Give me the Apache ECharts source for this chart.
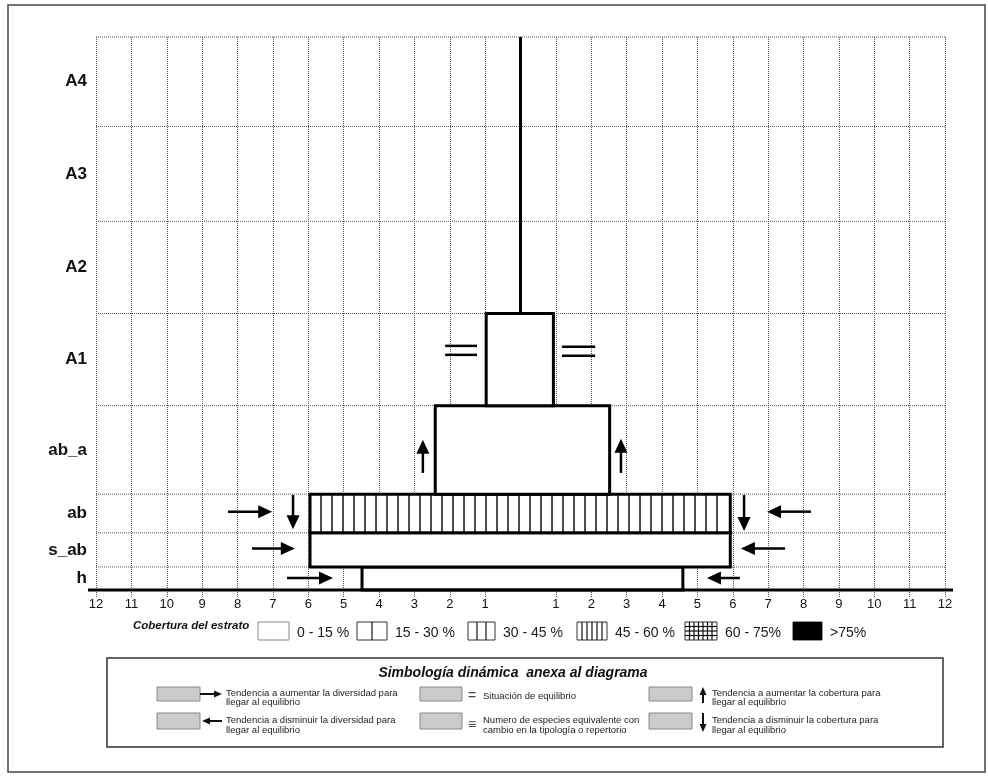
<!DOCTYPE html>
<html>
<head>
<meta charset="utf-8">
<script src="https://cdn.jsdelivr.net/npm/echarts@6/dist/echarts.min.js"></script>
<style>html,body{margin:0;padding:0;background:#fff}#c{width:988px;height:777px}</style>
</head>
<body>
<div id="c"></div>
<script>
// ---------- data ----------
const strata = ['h', 's_ab', 'ab', 'ab_a', 'A1', 'A2', 'A3', 'A4'];
const strataBounds = [0, 0.25, 0.62, 1.04, 2, 3, 4, 5.03, 6];
const xTickValues = [-12,-11,-10,-9,-8,-7,-6,-5,-4,-3,-2,-1,1,2,3,4,5,6,7,8,9,10,11,12];
const xTickLabels = ['12','11','10','9','8','7','6','5','4','3','2','1','','1','2','3','4','5','6','7','8','9','10','11','12'];
// cover boxes per stratum (index into strata): left / right diversity extent, cover class
const boxStratum = [0, 1, 2, 3, 4];
const boxLeft = [-4.48, -5.95, -5.95, -2.41, -0.97];
const boxRight = [4.59, 5.93, 5.93, 2.52, 0.93];
const boxCover = [0, 0, 3, 0, 0];
const coverClasses = ['0 - 15 %', '15 - 30 %', '30 - 45 %', '45 - 60 %', '60 - 75%', '>75%'];
// central stem: x, from, to
const stem = [0, 3.01, 6];
// dynamic arrows [tailX, tailY, headX, headY]
const arrows = [
  [-8.27, 0.85, -7.02, 0.85],
  [8.21, 0.85, 6.97, 0.85],
  [-7.59, 0.45, -6.38, 0.45],
  [7.48, 0.45, 6.23, 0.45],
  [-6.6, 0.13, -5.3, 0.13],
  [6.2, 0.13, 5.27, 0.13],
  [-6.43, 1.03, -6.43, 0.66],
  [6.32, 1.03, 6.32, 0.64],
  [-2.76, 1.27, -2.76, 1.63],
  [2.84, 1.27, 2.84, 1.64]
];
// equilibrium signs [x1, x2, y]
const equalsSigns = [[-2.13, -1.23, 2.6], [1.17, 2.11, 2.59]];
const coverTitle = 'Cobertura del estrato';
const dynTitle = 'Simbología dinámica  anexa al diagrama';
const dynSymbols = ['→', '←', '=', '≡', '↑', '↓'];
const dynTexts = [
  ['Tendencia a aumentar la diversidad para', 'llegar al equilibrio'],
  ['Tendencia a disminuir la diversidad para', 'llegar al equilibrio'],
  ['Situación de equilibrio'],
  ['Numero de especies equivalente con', 'cambio en la tipología o repertorio'],
  ['Tendencia a aumentar la cobertura para', 'llegar al equilibrio'],
  ['Tendencia a disminuir la cobertura para', 'llegar al equilibrio']
];

// ---------- helpers ----------
const FAM = '"Liberation Sans", Arial, Helvetica, sans-serif';
const mids = strata.map((s, i) => (strataBounds[i] + strataBounds[i + 1]) / 2);

function arrowEls(x1, y1, x2, y2, lw, headLen, headHalf, color) {
  const dx = x2 - x1, dy = y2 - y1, L = Math.hypot(dx, dy) || 1;
  const ux = dx / L, uy = dy / L;
  const bx = x2 - ux * headLen, by = y2 - uy * headLen;
  const px = -uy, py = ux;
  return [
    {type: 'line', shape: {x1: x1, y1: y1, x2: bx + ux, y2: by + uy}, style: {stroke: color, lineWidth: lw}},
    {type: 'polygon', shape: {points: [[x2, y2], [bx + px * headHalf, by + py * headHalf], [bx - px * headHalf, by - py * headHalf]]}, style: {fill: color}}
  ];
}

function patternEls(x, y, w, h, cls, step, lw, color) {
  const els = [];
  const vline = (xx) => els.push({type: 'line', shape: {x1: xx, y1: y, x2: xx, y2: y + h}, style: {stroke: color, lineWidth: lw}});
  const hline = (yy) => els.push({type: 'line', shape: {x1: x, y1: yy, x2: x + w, y2: yy}, style: {stroke: color, lineWidth: lw}});
  if (cls === 1) { vline(x + w / 2); }
  else if (cls === 2) { vline(x + w / 3); vline(x + 2 * w / 3); }
  else if (cls === 3) { for (let xx = x + step; xx < x + w - step * 0.4; xx += step) vline(xx); }
  else if (cls === 4) {
    for (let xx = x + step; xx < x + w - step * 0.4; xx += step) vline(xx);
    for (let yy = y + step; yy < y + h - step * 0.4; yy += step) hline(yy);
  } else if (cls === 5) {
    els.push({type: 'rect', shape: {x: x, y: y, width: w, height: h}, style: {fill: '#000'}});
  }
  return els;
}

function T(x, y, text, font, extra) {
  return Object.assign({type: 'text', x: x, y: y, style: Object.assign({
    text: text, font: font, fill: '#111',
    textVerticalAlign: 'middle', verticalAlign: 'middle', textAlign: 'left', align: 'left'
  }, extra || {})});
}

// ---------- graphic (frame + legends) ----------
const G = [];
G.push({type: 'rect', shape: {x: 8, y: 5, width: 977, height: 767}, style: {fill: 'none', stroke: '#444', lineWidth: 1.5}});

// cover legend row
G.push(T(133, 626, coverTitle, 'italic bold 11.5px ' + FAM));
const covBoxX = [258, 357, 468, 577, 685, 793];
const covBoxW = [31, 30, 27, 30, 32, 29];
coverClasses.forEach((lab, k) => {
  const bx = covBoxX[k], by = 622, bw = covBoxW[k], bh = 18;
  G.push({type: 'rect', shape: {x: bx, y: by, width: bw, height: bh}, style: {fill: '#fff', stroke: k === 0 ? '#888' : '#333', lineWidth: 1}});
  patternEls(bx, by, bw, bh, k, k === 4 ? 4.5 : 5, 1.2, '#111').forEach(e => G.push(e));
  G.push(T(bx + bw + 8, 633, lab, '14px ' + FAM, {fill: '#1a1a1a'}));
});

// dynamic symbology box
G.push({type: 'rect', shape: {x: 107, y: 658, width: 836, height: 89}, style: {fill: 'none', stroke: '#333', lineWidth: 1.5}});
G.push(T(513, 673, dynTitle, 'italic bold 14px ' + FAM, {textAlign: 'center', align: 'center'}));
const dynBoxX = [157, 420, 649], dynBoxW = [43, 42, 43], dynTextX = [226, 483, 712];
const dynBoxY = [687, 713], dynBoxH = [14, 16];
const dynLineY = [[693, 702], [720, 730]], dynSingleY = [696, 725];
dynSymbols.forEach((sym, k) => {
  const col = Math.floor(k / 2), row = k % 2;
  const bx = dynBoxX[col], by = dynBoxY[row];
  G.push({type: 'rect', shape: {x: bx, y: by, width: dynBoxW[col], height: dynBoxH[row]}, style: {fill: '#cbcbcb', stroke: '#8a8a8a', lineWidth: 1}});
  const cy = by + dynBoxH[row] / 2;
  const right = bx + dynBoxW[col];
  let els = [];
  if (sym === '→') els = arrowEls(right, cy, right + 22, cy, 2, 8, 3.5, '#111');
  else if (sym === '←') els = arrowEls(right + 22, cy, right + 2, cy, 2, 8, 3.5, '#111');
  else if (sym === '↑') els = arrowEls(703, 703, 703, 687, 2, 8, 3.5, '#111');
  else if (sym === '↓') els = arrowEls(703, 713, 703, 732, 2, 8, 3.5, '#111');
  else els = [T(472, dynSingleY[row], sym, '14px ' + FAM, {textAlign: 'center', align: 'center', fill: '#444'})];
  els.forEach(e => G.push(e));
  const lines = dynTexts[k];
  if (lines.length === 1) {
    G.push(T(dynTextX[col], dynSingleY[row], lines[0], '9.5px ' + FAM, {fill: '#222'}));
  } else {
    lines.forEach((ln, j) => G.push(T(dynTextX[col], dynLineY[row][j], ln, '9.5px ' + FAM, {fill: '#222'})));
  }
});

// ---------- chart ----------
const chart = echarts.init(document.getElementById('c'), null, {renderer: 'canvas'});
const option = {
  animation: false,
  backgroundColor: '#fff',
  grid: {left: 96, right: 43, top: 37, bottom: 187},
  xAxis: {
    type: 'value', min: -12, max: 12, interval: 1,
    axisLine: {show: false},
    axisTick: {show: true, length: 8, customValues: xTickValues, lineStyle: {color: '#555', type: [1, 1]}},
    axisLabel: {margin: 8, fontSize: 13, color: '#111', fontFamily: FAM,
      formatter: (v) => xTickLabels[Math.round(v) + 12] || ''},
    splitLine: {show: true, lineStyle: {color: '#555', type: [1, 1], width: 1}}
  },
  yAxis: {
    type: 'value', min: 0, max: 6,
    axisLine: {show: false}, axisTick: {show: false}, splitLine: {show: false},
    axisLabel: {customValues: mids, margin: 9, fontSize: 17, fontWeight: 'bold', color: '#111', fontFamily: FAM,
      formatter: (v) => { const i = mids.findIndex(m => Math.abs(m - v) < 1e-6); return i >= 0 ? strata[i] : ''; }}
  },
  series: [
    { // horizontal stratum lines
      type: 'custom', z: 1, silent: true,
      data: strataBounds.slice(1).map(b => [0, b]),
      renderItem: (params, api) => {
        const b = api.value(1);
        const p0 = api.coord([-12, b]), p1 = api.coord([12, b]);
        return {type: 'line', shape: {x1: p0[0], y1: p0[1], x2: p1[0], y2: p1[1]}, style: {stroke: '#555', lineWidth: 1, lineDash: [1, 1]}};
      }
    },
    { // stratum cover boxes
      type: 'custom', z: 2, silent: true,
      data: boxStratum.map((s, i) => [s, boxLeft[i], boxRight[i], boxCover[i]]),
      renderItem: (params, api) => {
        const i = api.value(0), l = api.value(1), r = api.value(2), cls = api.value(3);
        const tl = api.coord([l, strataBounds[i + 1]]), br = api.coord([r, strataBounds[i]]);
        const x = tl[0], y = tl[1], w = br[0] - tl[0], h = br[1] - tl[1];
        const children = [{type: 'rect', shape: {x: x, y: y, width: w, height: h}, style: {fill: '#fff'}}];
        patternEls(x, y, w, h, cls, 11, 1.4, '#000').forEach(e => children.push(e));
        children.push({type: 'rect', shape: {x: x, y: y, width: w, height: h}, style: {fill: 'none', stroke: '#000', lineWidth: 3}});
        return {type: 'group', children: children};
      }
    },
    { // stem
      type: 'custom', z: 3, silent: true,
      data: [stem],
      renderItem: (params, api) => {
        const a = api.coord([api.value(0), api.value(1)]), b = api.coord([api.value(0), api.value(2)]);
        return {type: 'line', shape: {x1: a[0], y1: a[1], x2: b[0], y2: b[1]}, style: {stroke: '#000', lineWidth: 3}};
      }
    },
    { // equilibrium signs
      type: 'custom', z: 3, silent: true,
      data: equalsSigns,
      renderItem: (params, api) => {
        const a = api.coord([api.value(0), api.value(2)]), b = api.coord([api.value(1), api.value(2)]);
        return {type: 'group', children: [
          {type: 'line', shape: {x1: a[0], y1: a[1] - 4.5, x2: b[0], y2: b[1] - 4.5}, style: {stroke: '#000', lineWidth: 2.5}},
          {type: 'line', shape: {x1: a[0], y1: a[1] + 4.5, x2: b[0], y2: b[1] + 4.5}, style: {stroke: '#000', lineWidth: 2.5}}
        ]};
      }
    },
    { // dynamic arrows
      type: 'custom', z: 3, silent: true,
      data: arrows,
      renderItem: (params, api) => {
        const a = api.coord([api.value(0), api.value(1)]), b = api.coord([api.value(2), api.value(3)]);
        return {type: 'group', children: arrowEls(a[0], a[1], b[0], b[1], 2.5, 14, 6.5, '#000')};
      }
    },
    { // baseline
      type: 'custom', z: 4, silent: true,
      data: [[0, 0]],
      renderItem: (params, api) => {
        const a = api.coord([-12, 0]), b = api.coord([12, 0]);
        return {type: 'line', shape: {x1: a[0] - 8, y1: a[1], x2: b[0] + 8, y2: b[1]}, style: {stroke: '#000', lineWidth: 3}};
      }
    }
  ],
  graphic: {elements: G}
};
chart.setOption(option);
</script>
</body>
</html>
